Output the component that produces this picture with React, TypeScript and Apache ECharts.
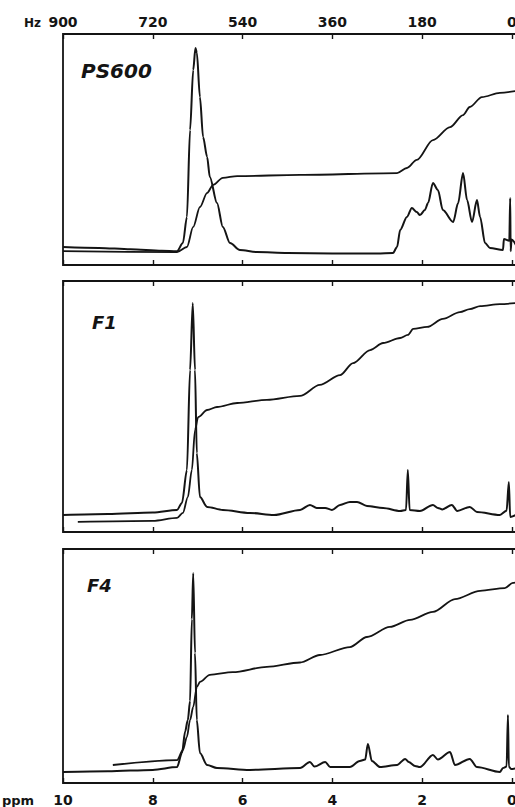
import React, { useEffect, useRef } from "react";
import * as echarts from "echarts";

// ppm axis ticks and Hz (90 MHz) conversion
const ppmTicks = [0, 2, 4, 6, 8, 10];
const hzPerPpm = 90;
const panelNames = ["PS600", "F1", "F4"];

// [ppm, intensity (0..100 of panel height)]
const ps600Spectrum = [
  [10.0, 7.8], [9.2, 7.4], [8.5, 6.8], [7.8, 6.2], [7.46, 6.0], [7.33, 9.5], [7.24, 20.8],
  [7.17, 58.4], [7.1, 84.4], [7.05, 93.9], [7.02, 92], [6.95, 72.7], [6.88, 55.4], [6.79, 46.8],
  [6.73, 38.1], [6.57, 26.8], [6.44, 16.5], [6.28, 9.5], [6.06, 6.5], [5.68, 5.6], [5.0, 5.2],
  [4.0, 5.0], [3.0, 5.0], [2.65, 5.2], [2.56, 7.8], [2.49, 15.2], [2.34, 20.8], [2.23, 24.7],
  [2.12, 22.9], [2.05, 21.6], [1.94, 23.8], [1.87, 26.8], [1.76, 35.5], [1.65, 32.5], [1.54, 23.8],
  [1.31, 18.6], [1.2, 26.8], [1.09, 39.8], [1.0, 28.1], [0.89, 18.6], [0.78, 28.1], [0.71, 20.8],
  [0.6, 9.5], [0.49, 7.4], [0.2, 6.5], [0.18, 11.3], [0.06, 10.5], [0.04, 29.0], [0.03, 6.0],
  [0.01, 11], [-0.13, 7],
];
const ps600Integral = [
  [10.0, 6.0], [7.46, 5.6], [7.24, 7.8], [7.1, 16.5], [6.95, 25.1], [6.79, 31.2], [6.66, 34.6],
  [6.44, 37.7], [6.12, 38.5], [4.72, 39.0], [2.56, 39.8], [2.34, 42.0], [2.12, 45.5], [1.76, 54.1],
  [1.38, 59.7], [1.09, 64.9], [0.94, 68.4], [0.67, 72.7], [0.27, 74.5], [-0.13, 75.5],
];

const f1Spectrum = [
  [10.0, 6.8], [9.0, 7.2], [8.0, 7.8], [7.46, 8.8], [7.35, 11.6], [7.24, 24.7], [7.17, 64.5],
  [7.11, 91.2], [7.06, 64.5], [7.02, 31.5], [6.95, 13.9], [6.79, 10.0], [6.44, 8.8], [5.84, 7.6],
  [5.3, 6.8], [4.72, 8.8], [4.5, 10.8], [4.35, 9.6], [4.16, 9.6], [4.01, 8.8], [3.83, 10.8],
  [3.61, 12.0], [3.45, 12.0], [3.23, 10.4], [2.87, 9.6], [2.49, 8.4], [2.36, 8.8], [2.32, 24.7],
  [2.28, 8.8], [2.05, 8.4], [1.76, 10.8], [1.65, 9.6], [1.55, 9.0], [1.34, 10.8], [1.22, 8.4],
  [0.94, 10.0], [0.78, 8.0], [0.27, 6.8], [0.12, 8.5], [0.07, 19.9], [0.04, 6.0], [-0.13, 7.2],
];
const f1Integral = [
  [9.67, 4.0], [8.0, 4.4], [7.46, 5.6], [7.33, 7.6], [7.22, 13.9], [7.13, 24.7], [7.06, 40.6],
  [6.99, 45.8], [6.79, 48.6], [6.57, 49.8], [6.12, 51.4], [5.46, 52.6], [4.72, 54.2], [4.28, 58.6],
  [3.83, 62.5], [3.54, 67.3], [3.16, 72.5], [2.87, 75.3], [2.49, 77.3], [2.32, 78.5], [2.2, 80.9],
  [1.89, 81.7], [1.54, 84.9], [1.16, 87.6], [0.94, 88.8], [0.71, 90.0], [0.27, 90.8], [-0.13, 91.3],
];

const f4Spectrum = [
  [10.0, 4.7], [9.0, 5.0], [8.0, 5.6], [7.46, 6.8], [7.35, 12.8], [7.28, 22], [7.22, 26.9],
  [7.17, 35], [7.13, 70], [7.1, 89.7], [7.06, 55.6], [7.02, 26.9], [6.95, 12.8], [6.79, 7.7],
  [6.57, 6.4], [5.84, 5.6], [4.72, 6.4], [4.5, 9.0], [4.4, 7.0], [4.16, 9.0], [4.05, 6.8],
  [3.61, 6.8], [3.39, 9.4], [3.27, 10.0], [3.21, 16.7], [3.12, 9.4], [2.94, 6.8], [2.56, 7.7],
  [2.38, 10.3], [2.3, 9.0], [2.16, 7.3], [2.05, 6.8], [1.76, 12.0], [1.65, 10.0], [1.38, 13.2],
  [1.27, 7.7], [0.94, 10.3], [0.78, 6.8], [0.27, 4.7], [0.2, 6.4], [0.12, 7.0], [0.09, 29.1],
  [0.07, 7.0], [0.02, 6.0], [-0.13, 6.5],
];
const f4Integral = [
  [8.89, 7.7], [7.46, 9.8], [7.33, 14.1], [7.24, 19.7], [7.17, 26.9], [7.1, 32.5], [7.02, 41.0],
  [6.95, 43.2], [6.73, 46.2], [6.22, 47.4], [5.46, 49.6], [4.72, 51.5], [4.28, 54.7], [3.61, 58.1],
  [3.23, 62.4], [2.72, 66.7], [2.27, 69.7], [1.76, 73.1], [1.27, 78.6], [0.71, 82.1], [0.16, 83.3],
  [-0.02, 85.5], [-0.13, 86],
];

const spectra = [ps600Spectrum, f1Spectrum, f4Spectrum];
const integrals = [ps600Integral, f1Integral, f4Integral];

const INK = "#141414";
const FONT = "'DejaVu Sans', sans-serif";

export default function App() {
  const ref = useRef<HTMLDivElement>(null);
  useEffect(() => {
    if (!ref.current) return;
    const chart = echarts.init(ref.current, undefined, { renderer: "svg" });
    const grids = [
      { left: 63, top: 34, width: 455, height: 231 },
      { left: 63, top: 281, width: 455, height: 251 },
      { left: 63, top: 549, width: 455, height: 234 },
    ].map((g) => ({ ...g, show: true, borderColor: INK, borderWidth: 1.8, backgroundColor: "transparent" }));

    const xAxes: any[] = [];
    grids.forEach((_, i) => {
      ["bottom", "top"].forEach((pos) => {
        const showLabel = (i === 0 && pos === "top") || (i === 2 && pos === "bottom");
        xAxes.push({
          type: "value",
          gridIndex: i,
          position: pos,
          inverse: true,
          min: -0.134,
          max: 10,
          axisLine: { show: false },
          splitLine: { show: false },
          axisTick: {
            show: true,
            inside: true,
            length: 5,
            customValues: ppmTicks,
            lineStyle: { color: INK, width: 1.4 },
          },
          axisLabel: {
            show: showLabel,
            customValues: ppmTicks,
            margin: pos === "top" ? 5 : 10,
            color: INK,
            fontFamily: FONT,
            fontWeight: "bold",
            fontSize: 14,
            formatter: (v: number) => (pos === "top" ? String(Math.round(v * hzPerPpm)) : String(v)),
          },
        });
      });
    });

    const yAxes = grids.map((_, i) => ({
      type: "value",
      gridIndex: i,
      min: 0,
      max: 100,
      show: false,
    }));

    const series: any[] = [];
    spectra.forEach((d, i) => {
      series.push({
        type: "line",
        xAxisIndex: 2 * i,
        yAxisIndex: i,
        data: d,
        showSymbol: false,
        smooth: 0.3,
        smoothMonotone: "x",
        lineStyle: { color: INK, width: 2, join: "round" },
      });
      series.push({
        type: "line",
        xAxisIndex: 2 * i,
        yAxisIndex: i,
        data: integrals[i],
        showSymbol: false,
        smooth: 0.3,
        smoothMonotone: "x",
        lineStyle: { color: INK, width: 1.8, join: "round" },
      });
    });

    const labelPos = [
      [81, 61],
      [92, 313],
      [87, 576],
    ];
    const graphic: any[] = [
      {
        type: "text",
        left: 24,
        top: 17,
        style: { text: "Hz", fill: INK, font: `bold 12px ${FONT}` },
      },
      {
        type: "text",
        left: 2,
        top: 794,
        style: { text: "ppm", fill: INK, font: `bold 13px ${FONT}` },
      },
      ...panelNames.map((name, i) => ({
        type: "text",
        left: labelPos[i][0],
        top: labelPos[i][1],
        style: { text: name, fill: INK, font: `italic bold ${i === 0 ? 20 : 18}px ${FONT}` },
      })),
    ];

    chart.setOption({
      animation: false,
      backgroundColor: "#fff",
      grid: grids,
      xAxis: xAxes,
      yAxis: yAxes,
      series,
      graphic,
    });
    return () => chart.dispose();
  }, []);

  return (
    <div style={{ position: "fixed", left: 0, top: 0, width: 515, height: 807, overflow: "hidden", background: "#fff" }}>
      <div ref={ref} style={{ width: 530, height: 807 }} />
    </div>
  );
}
